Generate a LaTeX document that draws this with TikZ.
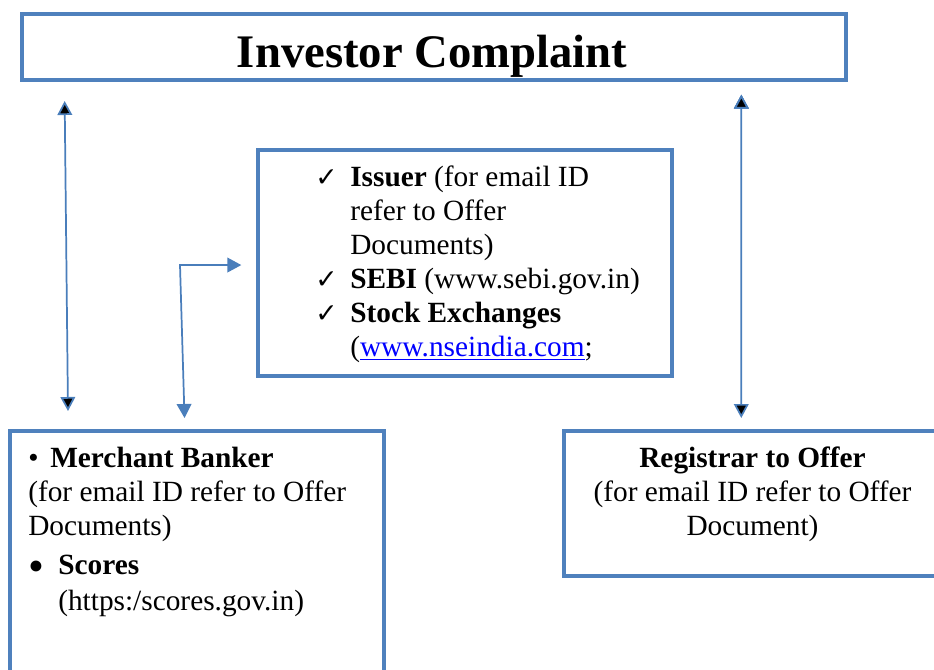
\documentclass[tikz,border=0pt]{standalone}
\usepackage{fontspec}
\setmainfont{Liberation Serif}
\newfontfamily\symfont{DejaVu Sans}
\usetikzlibrary{arrows.meta}
\definecolor{frameblue}{RGB}{79,129,189}
\definecolor{linkblue}{RGB}{74,126,187}
\definecolor{urlblue}{RGB}{0,0,255}
\tikzset{
  panel/.style={shape=rectangle,draw=frameblue,line width=3pt,fill=white},
  link/.style={draw=linkblue,line width=1.3pt,<->,>={Triangle[width=11pt,length=10.5pt]}},
  body/.style={inner sep=0pt,font=\fontsize{22}{25.5}\selectfont},
}
\newcommand{\tick}{\makebox[26.25pt][l]{\symfont\fontsize{20}{20}\selectfont ✓}}

\begin{document}
\begin{tikzpicture}[x=0.75pt,y=-0.75pt]
\useasboundingbox (0,0) rectangle (934,669);
\node(complaint) at (434,47)[panel,minimum width=618pt,minimum height=49.5pt]{};
\node(sources) at (465,262.5)[panel,minimum width=310.5pt,minimum height=169.5pt]{};
\node(merchant) at (197,595.5)[panel,minimum width=280.5pt,minimum height=246.75pt]{};
\node(registrar) at (752.75,503.5)[panel,minimum width=282.4pt,minimum height=108.75pt]{};

\node(complainttext) at (432,67)[anchor=base,inner sep=0pt,font=\fontsize{35}{40}\selectfont\bfseries]{Investor Complaint};

% multi-line nodes: base = last line
\node(sourcestext) at (315,356.7)[body,anchor=base west,align=left]{%
\tick\textbf{Issuer} (for email ID\\
\hspace*{26.25pt}refer to Offer\\
\hspace*{26.25pt}Documents)\\
\tick\textbf{SEBI} (www.sebi.gov.in)\\
\tick\textbf{Stock Exchanges}\\
\hspace*{26.25pt}({\color{urlblue}\underline{www.nseindia.com}};};

\node(merchanttext) at (28,610)[body,anchor=base west,align=left]{%
\makebox[16.5pt][l]{•}\textbf{Merchant Banker}\\
(for email ID refer to Offer\\
Documents)\\[3.75pt]
\makebox[22.5pt][l]{\raisebox{-5.5pt}{\fontsize{34}{34}\selectfont •}}\textbf{Scores}\\[1.5pt]
\hspace*{22.5pt}(https:/scores.gov.in)};

\node(registrartext) at (752.5,535)[body,anchor=base,align=center]{%
\textbf{Registrar to Offer}\\
(for email ID refer to Offer\\
Document)};

\coordinate(bend) at (180,265);

\path [link]
  ([xshift=33.5pt,yshift=-14.25pt]complaint.south west)  edge  ([xshift=45pt,yshift=13.5pt]merchant.north west)
  ([xshift=-80pt,yshift=-9.5pt]complaint.south east)     edge  ([xshift=134.1pt,yshift=8.25pt]registrar.north west);
\draw [link] ([xshift=132.4pt,yshift=8.25pt]merchant.north west) -- (bend) -- ([xshift=-11pt,yshift=-1.9pt]sources.west);

\end{tikzpicture}
\end{document}
